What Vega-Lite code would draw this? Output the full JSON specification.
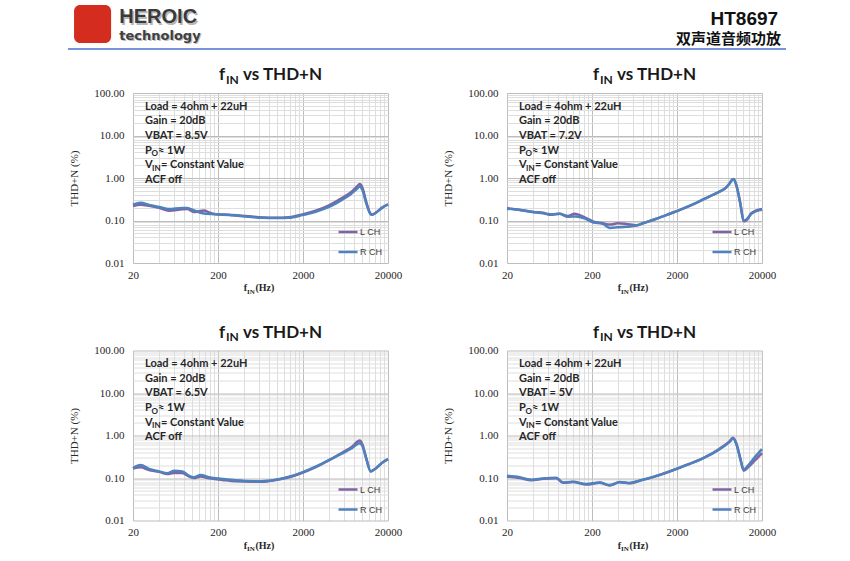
{
  "$schema": "https://vega.github.io/schema/vega-lite/v6.json",
  "background": "white",
  "autosize": {"type": "pad"},
  "padding": {"left": 67, "top": 5, "right": 0, "bottom": 0},
  "config": {
    "font": "Liberation Serif",
    "view": {"stroke": null},
    "axis": {"grid": true, "ticks": false, "domain": false, "labelFont": "Liberation Serif", "labelFontSize": 11, "labelColor": "#262626", "labelOverlap": false, "labelFlush": false, "labelBound": false, "titleFont": "Liberation Serif", "titleFontSize": 11, "titleFontWeight": "normal", "titleColor": "#262626"},
    "legend": {"orient": "bottom-right", "offset": 6, "padding": 0, "symbolType": "stroke", "symbolSize": 361, "symbolStrokeWidth": 2.5, "labelFont": "Liberation Sans", "labelFontSize": 9, "labelColor": "#404040", "labelOffset": 1, "rowPadding": 4, "labelLimit": 0}
  },
  "datasets": {
    "notes": [
      {"p": 1, "t": "Load = 4ohm + 22uH|Gain = 20dB|VBAT = 8.5V|P|V|ACF off", "o": "O", "q": "≈ 1W", "i": "IN", "r": "= Constant Value"},
      {"p": 2, "t": "Load = 4ohm + 22uH|Gain = 20dB|VBAT = 7.2V|P|V|ACF off", "o": "O", "q": "≈ 1W", "i": "IN", "r": "= Constant Value"},
      {"p": 3, "t": "Load = 4ohm + 22uH|Gain = 20dB|VBAT = 6.5V|P|V|ACF off", "o": "O", "q": "≈ 1W", "i": "IN", "r": "= Constant Value"},
      {"p": 4, "t": "Load = 4ohm + 22uH|Gain = 20dB|VBAT = 5V|P|V|ACF off", "o": "O", "q": "≈ 1W", "i": "IN", "r": "= Constant Value"}
    ],
    "curves": [
      {"p":1,"c":"L CH","f":20,"v":0.22},{"p":1,"c":"L CH","f":24.6,"v":0.236},{"p":1,"c":"L CH","f":30.8,"v":0.223},{"p":1,"c":"L CH","f":40.4,"v":0.2},{"p":1,"c":"L CH","f":53,"v":0.17},{"p":1,"c":"L CH","f":76,"v":0.183},{"p":1,"c":"L CH","f":87,"v":0.186},{"p":1,"c":"L CH","f":104,"v":0.158},{"p":1,"c":"L CH","f":137,"v":0.173},{"p":1,"c":"L CH","f":157,"v":0.155},{"p":1,"c":"L CH","f":188,"v":0.141},{"p":1,"c":"L CH","f":269,"v":0.136},{"p":1,"c":"L CH","f":423,"v":0.127},{"p":1,"c":"L CH","f":665,"v":0.118},{"p":1,"c":"L CH","f":953,"v":0.116},{"p":1,"c":"L CH","f":1368,"v":0.12},{"p":1,"c":"L CH","f":1964,"v":0.139},{"p":1,"c":"L CH","f":2818,"v":0.17},{"p":1,"c":"L CH","f":4045,"v":0.228},{"p":1,"c":"L CH","f":5806,"v":0.34},{"p":1,"c":"L CH","f":7279,"v":0.455},{"p":1,"c":"L CH","f":8711,"v":0.645},{"p":1,"c":"L CH","f":9290,"v":0.72},{"p":1,"c":"L CH","f":9980,"v":0.6},{"p":1,"c":"L CH","f":11120,"v":0.27},{"p":1,"c":"L CH","f":12510,"v":0.144},{"p":1,"c":"L CH","f":13090,"v":0.139},{"p":1,"c":"L CH","f":14330,"v":0.152},{"p":1,"c":"L CH","f":17150,"v":0.204},{"p":1,"c":"L CH","f":20000,"v":0.24},
      {"p":1,"c":"R CH","f":20,"v":0.236},{"p":1,"c":"R CH","f":24.6,"v":0.263},{"p":1,"c":"R CH","f":30.8,"v":0.232},{"p":1,"c":"R CH","f":40.4,"v":0.208},{"p":1,"c":"R CH","f":53,"v":0.186},{"p":1,"c":"R CH","f":76,"v":0.197},{"p":1,"c":"R CH","f":87,"v":0.197},{"p":1,"c":"R CH","f":104,"v":0.173},{"p":1,"c":"R CH","f":131,"v":0.149},{"p":1,"c":"R CH","f":188,"v":0.141},{"p":1,"c":"R CH","f":269,"v":0.134},{"p":1,"c":"R CH","f":423,"v":0.125},{"p":1,"c":"R CH","f":665,"v":0.116},{"p":1,"c":"R CH","f":953,"v":0.114},{"p":1,"c":"R CH","f":1368,"v":0.116},{"p":1,"c":"R CH","f":1964,"v":0.134},{"p":1,"c":"R CH","f":2818,"v":0.161},{"p":1,"c":"R CH","f":4045,"v":0.208},{"p":1,"c":"R CH","f":5806,"v":0.31},{"p":1,"c":"R CH","f":7279,"v":0.416},{"p":1,"c":"R CH","f":8711,"v":0.567},{"p":1,"c":"R CH","f":9290,"v":0.63},{"p":1,"c":"R CH","f":9980,"v":0.52},{"p":1,"c":"R CH","f":11120,"v":0.25},{"p":1,"c":"R CH","f":12510,"v":0.14},{"p":1,"c":"R CH","f":13090,"v":0.137},{"p":1,"c":"R CH","f":14330,"v":0.15},{"p":1,"c":"R CH","f":17150,"v":0.2},{"p":1,"c":"R CH","f":20000,"v":0.24},
      {"p":2,"c":"L CH","f":20,"v":0.193},{"p":2,"c":"L CH","f":28.2,"v":0.18},{"p":2,"c":"L CH","f":40.4,"v":0.158},{"p":2,"c":"L CH","f":53,"v":0.152},{"p":2,"c":"L CH","f":63.5,"v":0.136},{"p":2,"c":"L CH","f":83,"v":0.144},{"p":2,"c":"L CH","f":104,"v":0.127},{"p":2,"c":"L CH","f":125,"v":0.144},{"p":2,"c":"L CH","f":164,"v":0.118},{"p":2,"c":"L CH","f":205,"v":0.095},{"p":2,"c":"L CH","f":269,"v":0.086},{"p":2,"c":"L CH","f":323,"v":0.08},{"p":2,"c":"L CH","f":405,"v":0.086},{"p":2,"c":"L CH","f":507,"v":0.083},{"p":2,"c":"L CH","f":665,"v":0.077},{"p":2,"c":"L CH","f":796,"v":0.086},{"p":2,"c":"L CH","f":1143,"v":0.11},{"p":2,"c":"L CH","f":1639,"v":0.144},{"p":2,"c":"L CH","f":2354,"v":0.19},{"p":2,"c":"L CH","f":3375,"v":0.259},{"p":2,"c":"L CH","f":4845,"v":0.372},{"p":2,"c":"L CH","f":6353,"v":0.48},{"p":2,"c":"L CH","f":7605,"v":0.6},{"p":2,"c":"L CH","f":8333,"v":0.75},{"p":2,"c":"L CH","f":8900,"v":0.91},{"p":2,"c":"L CH","f":9290,"v":0.95},{"p":2,"c":"L CH","f":9980,"v":0.68},{"p":2,"c":"L CH","f":11120,"v":0.25},{"p":2,"c":"L CH","f":12170,"v":0.096},{"p":2,"c":"L CH","f":13090,"v":0.1},{"p":2,"c":"L CH","f":14990,"v":0.149},{"p":2,"c":"L CH","f":17150,"v":0.172},{"p":2,"c":"L CH","f":20000,"v":0.186},
      {"p":2,"c":"R CH","f":20,"v":0.19},{"p":2,"c":"R CH","f":28.2,"v":0.176},{"p":2,"c":"R CH","f":40.4,"v":0.158},{"p":2,"c":"R CH","f":53,"v":0.149},{"p":2,"c":"R CH","f":69.5,"v":0.139},{"p":2,"c":"R CH","f":83,"v":0.144},{"p":2,"c":"R CH","f":104,"v":0.122},{"p":2,"c":"R CH","f":131,"v":0.125},{"p":2,"c":"R CH","f":164,"v":0.112},{"p":2,"c":"R CH","f":205,"v":0.091},{"p":2,"c":"R CH","f":269,"v":0.083},{"p":2,"c":"R CH","f":323,"v":0.067},{"p":2,"c":"R CH","f":405,"v":0.069},{"p":2,"c":"R CH","f":507,"v":0.071},{"p":2,"c":"R CH","f":665,"v":0.076},{"p":2,"c":"R CH","f":796,"v":0.086},{"p":2,"c":"R CH","f":1143,"v":0.11},{"p":2,"c":"R CH","f":1639,"v":0.144},{"p":2,"c":"R CH","f":2354,"v":0.19},{"p":2,"c":"R CH","f":3375,"v":0.259},{"p":2,"c":"R CH","f":4845,"v":0.372},{"p":2,"c":"R CH","f":6353,"v":0.48},{"p":2,"c":"R CH","f":7605,"v":0.6},{"p":2,"c":"R CH","f":8333,"v":0.75},{"p":2,"c":"R CH","f":8900,"v":0.9},{"p":2,"c":"R CH","f":9290,"v":0.93},{"p":2,"c":"R CH","f":9980,"v":0.68},{"p":2,"c":"R CH","f":11120,"v":0.25},{"p":2,"c":"R CH","f":12170,"v":0.1},{"p":2,"c":"R CH","f":13090,"v":0.106},{"p":2,"c":"R CH","f":14990,"v":0.144},{"p":2,"c":"R CH","f":17150,"v":0.167},{"p":2,"c":"R CH","f":20000,"v":0.18},
      {"p":3,"c":"L CH","f":20,"v":0.168},{"p":3,"c":"L CH","f":24.6,"v":0.178},{"p":3,"c":"L CH","f":30.8,"v":0.154},{"p":3,"c":"L CH","f":40.4,"v":0.141},{"p":3,"c":"L CH","f":50.7,"v":0.124},{"p":3,"c":"L CH","f":60.7,"v":0.131},{"p":3,"c":"L CH","f":76,"v":0.131},{"p":3,"c":"L CH","f":91,"v":0.109},{"p":3,"c":"L CH","f":104,"v":0.1},{"p":3,"c":"L CH","f":125,"v":0.109},{"p":3,"c":"L CH","f":157,"v":0.098},{"p":3,"c":"L CH","f":225,"v":0.09},{"p":3,"c":"L CH","f":323,"v":0.084},{"p":3,"c":"L CH","f":507,"v":0.082},{"p":3,"c":"L CH","f":665,"v":0.082},{"p":3,"c":"L CH","f":953,"v":0.09},{"p":3,"c":"L CH","f":1368,"v":0.104},{"p":3,"c":"L CH","f":1964,"v":0.133},{"p":3,"c":"L CH","f":2818,"v":0.181},{"p":3,"c":"L CH","f":4045,"v":0.264},{"p":3,"c":"L CH","f":5806,"v":0.399},{"p":3,"c":"L CH","f":7605,"v":0.553},{"p":3,"c":"L CH","f":9290,"v":0.764},{"p":3,"c":"L CH","f":9980,"v":0.625},{"p":3,"c":"L CH","f":11120,"v":0.289},{"p":3,"c":"L CH","f":12510,"v":0.143},{"p":3,"c":"L CH","f":14330,"v":0.168},{"p":3,"c":"L CH","f":17150,"v":0.229},{"p":3,"c":"L CH","f":20000,"v":0.279},
      {"p":3,"c":"R CH","f":20,"v":0.171},{"p":3,"c":"R CH","f":24.6,"v":0.202},{"p":3,"c":"R CH","f":30.8,"v":0.163},{"p":3,"c":"R CH","f":40.4,"v":0.143},{"p":3,"c":"R CH","f":50.7,"v":0.129},{"p":3,"c":"R CH","f":60.7,"v":0.149},{"p":3,"c":"R CH","f":76,"v":0.143},{"p":3,"c":"R CH","f":91,"v":0.113},{"p":3,"c":"R CH","f":104,"v":0.104},{"p":3,"c":"R CH","f":125,"v":0.118},{"p":3,"c":"R CH","f":157,"v":0.104},{"p":3,"c":"R CH","f":225,"v":0.095},{"p":3,"c":"R CH","f":323,"v":0.088},{"p":3,"c":"R CH","f":507,"v":0.084},{"p":3,"c":"R CH","f":665,"v":0.084},{"p":3,"c":"R CH","f":953,"v":0.091},{"p":3,"c":"R CH","f":1368,"v":0.107},{"p":3,"c":"R CH","f":1964,"v":0.136},{"p":3,"c":"R CH","f":2818,"v":0.184},{"p":3,"c":"R CH","f":4045,"v":0.264},{"p":3,"c":"R CH","f":5806,"v":0.378},{"p":3,"c":"R CH","f":7605,"v":0.51},{"p":3,"c":"R CH","f":9290,"v":0.66},{"p":3,"c":"R CH","f":9980,"v":0.572},{"p":3,"c":"R CH","f":11120,"v":0.279},{"p":3,"c":"R CH","f":12510,"v":0.143},{"p":3,"c":"R CH","f":14330,"v":0.168},{"p":3,"c":"R CH","f":17150,"v":0.233},{"p":3,"c":"R CH","f":20000,"v":0.279},
      {"p":4,"c":"L CH","f":20,"v":0.109},{"p":4,"c":"L CH","f":28.2,"v":0.1},{"p":4,"c":"L CH","f":38.7,"v":0.089},{"p":4,"c":"L CH","f":53,"v":0.096},{"p":4,"c":"L CH","f":76,"v":0.099},{"p":4,"c":"L CH","f":91,"v":0.077},{"p":4,"c":"L CH","f":119.5,"v":0.08},{"p":4,"c":"L CH","f":171.5,"v":0.07},{"p":4,"c":"L CH","f":246,"v":0.077},{"p":4,"c":"L CH","f":323,"v":0.067},{"p":4,"c":"L CH","f":423,"v":0.079},{"p":4,"c":"L CH","f":555,"v":0.075},{"p":4,"c":"L CH","f":728,"v":0.086},{"p":4,"c":"L CH","f":1044,"v":0.105},{"p":4,"c":"L CH","f":1639,"v":0.142},{"p":4,"c":"L CH","f":2576,"v":0.2},{"p":4,"c":"L CH","f":4045,"v":0.292},{"p":4,"c":"L CH","f":6353,"v":0.49},{"p":4,"c":"L CH","f":8333,"v":0.74},{"p":4,"c":"L CH","f":9120,"v":0.88},{"p":4,"c":"L CH","f":9980,"v":0.65},{"p":4,"c":"L CH","f":11120,"v":0.29},{"p":4,"c":"L CH","f":12170,"v":0.149},{"p":4,"c":"L CH","f":13690,"v":0.178},{"p":4,"c":"L CH","f":16400,"v":0.255},{"p":4,"c":"L CH","f":20000,"v":0.385},
      {"p":4,"c":"R CH","f":20,"v":0.113},{"p":4,"c":"R CH","f":28.2,"v":0.104},{"p":4,"c":"R CH","f":38.7,"v":0.091},{"p":4,"c":"R CH","f":53,"v":0.098},{"p":4,"c":"R CH","f":76,"v":0.102},{"p":4,"c":"R CH","f":91,"v":0.078},{"p":4,"c":"R CH","f":119.5,"v":0.082},{"p":4,"c":"R CH","f":171.5,"v":0.072},{"p":4,"c":"R CH","f":246,"v":0.078},{"p":4,"c":"R CH","f":323,"v":0.068},{"p":4,"c":"R CH","f":423,"v":0.081},{"p":4,"c":"R CH","f":555,"v":0.076},{"p":4,"c":"R CH","f":728,"v":0.087},{"p":4,"c":"R CH","f":1044,"v":0.106},{"p":4,"c":"R CH","f":1639,"v":0.143},{"p":4,"c":"R CH","f":2576,"v":0.202},{"p":4,"c":"R CH","f":4045,"v":0.289},{"p":4,"c":"R CH","f":6353,"v":0.478},{"p":4,"c":"R CH","f":8333,"v":0.71},{"p":4,"c":"R CH","f":9120,"v":0.85},{"p":4,"c":"R CH","f":9980,"v":0.625},{"p":4,"c":"R CH","f":11120,"v":0.279},{"p":4,"c":"R CH","f":12170,"v":0.157},{"p":4,"c":"R CH","f":13690,"v":0.195},{"p":4,"c":"R CH","f":16400,"v":0.305},{"p":4,"c":"R CH","f":20000,"v":0.478}
    ]
  },
  "spacing": 16,
  "vconcat": [
    {
      "width": 653, "height": 44,
      "layer": [
        {"data": {"values": [{"k": "logo"}]}, "mark": {"type": "rect", "fill": "#d42c1f", "cornerRadius": 6},
         "encoding": {"x": {"datum": 0.84, "type": "quantitative", "scale": {"domain": [9.05, 100]}, "axis": null}, "x2": {"datum": 6.0}, "y": {"datum": 1, "type": "quantitative", "scale": {"domain": [0, 1]}, "axis": null}, "y2": {"datum": 0.136}}},
        {"data": {"values": [{"t": "HEROIC"}]}, "mark": {"type": "text", "align": "left", "baseline": "alphabetic", "font": "Liberation Sans", "fontWeight": "bold", "fontSize": 20, "fill": "#b8b8b8", "dx": 1.5, "dy": 1.5},
         "encoding": {"x": {"datum": 7.14, "type": "quantitative", "scale": {"domain": [9.05, 100]}, "axis": null}, "y": {"datum": 0.584, "type": "quantitative", "scale": {"domain": [0, 1]}, "axis": null}, "text": {"field": "t"}}},
        {"data": {"values": [{"t": "HEROIC"}]}, "mark": {"type": "text", "align": "left", "baseline": "alphabetic", "font": "Liberation Sans", "fontWeight": "bold", "fontSize": 20, "fill": "#3a3a3a"},
         "encoding": {"x": {"datum": 7.14, "type": "quantitative", "scale": {"domain": [9.05, 100]}, "axis": null}, "y": {"datum": 0.584, "type": "quantitative", "scale": {"domain": [0, 1]}, "axis": null}, "text": {"field": "t"}}},
        {"data": {"values": [{"t": "technology"}]}, "mark": {"type": "text", "align": "left", "baseline": "alphabetic", "font": "DejaVu Sans", "fontWeight": "bold", "fontSize": 13, "fill": "#c0c0c0", "dx": 1.2, "dy": 1.2},
         "encoding": {"x": {"datum": 7.14, "type": "quantitative", "scale": {"domain": [9.05, 100]}, "axis": null}, "y": {"datum": 0.205, "type": "quantitative", "scale": {"domain": [0, 1]}, "axis": null}, "text": {"field": "t"}}},
        {"data": {"values": [{"t": "technology"}]}, "mark": {"type": "text", "align": "left", "baseline": "alphabetic", "font": "DejaVu Sans", "fontWeight": "bold", "fontSize": 13, "fill": "#404040"},
         "encoding": {"x": {"datum": 7.14, "type": "quantitative", "scale": {"domain": [9.05, 100]}, "axis": null}, "y": {"datum": 0.205, "type": "quantitative", "scale": {"domain": [0, 1]}, "axis": null}, "text": {"field": "t"}}},
        {"data": {"values": [{"t": "HT8697"}]}, "mark": {"type": "text", "align": "right", "baseline": "alphabetic", "font": "Liberation Sans", "fontWeight": "bold", "fontSize": 19, "fill": "#111111"},
         "encoding": {"x": {"datum": 98.9, "type": "quantitative", "scale": {"domain": [9.05, 100]}, "axis": null}, "y": {"datum": 0.545, "type": "quantitative", "scale": {"domain": [0, 1]}, "axis": null}, "text": {"field": "t"}}},
        {"data": {"values": [{"t": "双声道音频功放"}]}, "mark": {"type": "text", "align": "right", "baseline": "alphabetic", "font": "Noto Sans CJK SC", "fontWeight": "bold", "fontSize": 15, "fill": "#111111"},
         "encoding": {"x": {"datum": 99.3, "type": "quantitative", "scale": {"domain": [9.05, 100]}, "axis": null}, "y": {"datum": 0.114, "type": "quantitative", "scale": {"domain": [0, 1]}, "axis": null}, "text": {"field": "t"}}},
        {"data": {"values": [{"k": "line"}]}, "mark": {"type": "rule", "color": "#4a6fd0", "strokeWidth": 1.5},
         "encoding": {"x": {"datum": 0, "type": "quantitative", "scale": {"domain": [9.05, 100]}, "axis": null}, "x2": {"datum": 100}, "y": {"datum": 0, "type": "quantitative", "scale": {"domain": [0, 1]}, "axis": null}}}
      ]
    },
    {
      "columns": 2,
      "bounds": "flush",
      "spacing": {"row": 87.5, "column": 119},
      "resolve": {"scale": {"color": "shared"}, "legend": {"color": "independent"}},
      "concat": [
        {
          "width": 255, "height": 170,
          "layer": [
            {"data": {"name": "curves"}, "transform": [{"filter": "datum.p == 1"}],
             "mark": {"type": "line", "interpolate": "monotone", "strokeWidth": 2.5},
             "encoding": {
               "x": {"field": "f", "type": "quantitative", "scale": {"type": "log", "domain": [20, 20000], "nice": false},
                     "axis": {"title": null, "values": [20,40,60,80,100,120,140,160,180,200,400,600,800,1000,1200,1400,1600,1800,2000,4000,6000,8000,10000,12000,14000,16000,18000,20000], "format": "d", "labelExpr": "indexof([20,200,2000,20000], datum.value) >= 0 ? datum.label : ''", "labelPadding": 6, "gridColor": {"condition": {"test": "indexof([20,200,2000,20000], datum.value) >= 0", "value": "#bdbdbd"}, "value": "#dedede"}}},
               "y": {"field": "v", "type": "quantitative", "scale": {"type": "log", "domain": [0.01, 100], "nice": false},
                     "axis": {"title": "THD+N (%)", "values": [0.01,0.02,0.03,0.04,0.05,0.06,0.07,0.08,0.09,0.1,0.2,0.3,0.4,0.5,0.6,0.7,0.8,0.9,1,2,3,4,5,6,7,8,9,10,20,30,40,50,60,70,80,90,100], "format": ".2f", "labelExpr": "indexof([0.01,0.1,1,10,100], datum.value) >= 0 ? datum.label : ''", "labelPadding": 9, "titlePadding": 14, "gridColor": {"condition": {"test": "indexof([0.01,0.1,1,10,100], datum.value) >= 0", "value": "#bdbdbd"}, "value": "#dedede"}}},
               "color": {"field": "c", "type": "nominal", "scale": {"domain": ["L CH", "R CH"], "range": ["#8064A2", "#4F81BD"]}, "legend": {"title": null}}
             }},
            {"data": {"values": [{"a": "vs THD+N", "b": "f", "s": "IN"}]},
             "encoding": {"x": {"datum": 394, "type": "quantitative", "scale": {"type": "log", "domain": [20, 20000], "nice": false}}, "y": {"datum": 200, "type": "quantitative", "scale": {"type": "log", "domain": [0.01, 100], "nice": false}}},
             "layer": [
               {"mark": {"type": "text", "align": "left", "baseline": "alphabetic", "font": "Lato", "fontWeight": "bold", "fontSize": 17, "fill": "#1a1a1a"}, "encoding": {"text": {"field": "a"}}},
               {"mark": {"type": "text", "align": "right", "baseline": "alphabetic", "font": "Lato", "fontWeight": "bold", "fontSize": 17, "fill": "#1a1a1a", "dx": -18}, "encoding": {"text": {"field": "b"}}},
               {"mark": {"type": "text", "align": "left", "baseline": "alphabetic", "font": "Lato", "fontWeight": "bold", "fontSize": 12, "fill": "#1a1a1a", "dx": -17, "dy": 3.5}, "encoding": {"text": {"field": "s"}}}
             ]},
            {"data": {"name": "notes"}, "transform": [{"filter": "datum.p == 1"}],
             "encoding": {"x": {"datum": 27.7, "type": "quantitative", "scale": {"type": "log", "domain": [20, 20000], "nice": false}}, "y": {"datum": 40.3, "type": "quantitative", "scale": {"type": "log", "domain": [0.01, 100], "nice": false}}},
             "layer": [
               {"mark": {"type": "text", "align": "left", "baseline": "alphabetic", "font": "Lato", "fontWeight": "bold", "fontSize": 11, "fill": "#262626", "lineBreak": "|", "lineHeight": 14.6}, "encoding": {"text": {"field": "t"}}},
               {"mark": {"type": "text", "align": "left", "baseline": "alphabetic", "font": "Lato", "fontWeight": "bold", "fontSize": 8, "fill": "#262626", "dx": 6.5, "dy": 46.3}, "encoding": {"text": {"field": "o"}}},
               {"mark": {"type": "text", "align": "left", "baseline": "alphabetic", "font": "Lato", "fontWeight": "bold", "fontSize": 11, "fill": "#262626", "dx": 13, "dy": 43.8}, "encoding": {"text": {"field": "q"}}},
               {"mark": {"type": "text", "align": "left", "baseline": "alphabetic", "font": "Lato", "fontWeight": "bold", "fontSize": 8, "fill": "#262626", "dx": 7, "dy": 60.9}, "encoding": {"text": {"field": "i"}}},
               {"mark": {"type": "text", "align": "left", "baseline": "alphabetic", "font": "Lato", "fontWeight": "bold", "fontSize": 11, "fill": "#262626", "dx": 16, "dy": 58.4}, "encoding": {"text": {"field": "r"}}}
             ]},
            {"data": {"values": [{"a": "(Hz)", "b": "f", "s": "IN"}]},
             "encoding": {"x": {"datum": 575, "type": "quantitative", "scale": {"type": "log", "domain": [20, 20000], "nice": false}}, "y": {"datum": 0.00216, "type": "quantitative", "scale": {"type": "log", "domain": [0.01, 100], "nice": false}}},
             "layer": [
               {"mark": {"type": "text", "align": "left", "baseline": "alphabetic", "font": "Liberation Serif", "fontWeight": "bold", "fontSize": 10, "fill": "#262626", "dx": -1.5}, "encoding": {"text": {"field": "a"}}},
               {"mark": {"type": "text", "align": "right", "baseline": "alphabetic", "font": "Liberation Serif", "fontWeight": "bold", "fontSize": 10, "fill": "#262626", "dx": -10}, "encoding": {"text": {"field": "b"}}},
               {"mark": {"type": "text", "align": "left", "baseline": "alphabetic", "font": "Liberation Serif", "fontWeight": "bold", "fontSize": 7, "fill": "#262626", "dx": -10, "dy": 2.5}, "encoding": {"text": {"field": "s"}}}
             ]}
          ]
        },
        {
          "width": 255, "height": 170,
          "layer": [
            {"data": {"name": "curves"}, "transform": [{"filter": "datum.p == 2"}],
             "mark": {"type": "line", "interpolate": "monotone", "strokeWidth": 2.5},
             "encoding": {
               "x": {"field": "f", "type": "quantitative", "scale": {"type": "log", "domain": [20, 20000], "nice": false},
                     "axis": {"title": null, "values": [20,40,60,80,100,120,140,160,180,200,400,600,800,1000,1200,1400,1600,1800,2000,4000,6000,8000,10000,12000,14000,16000,18000,20000], "format": "d", "labelExpr": "indexof([20,200,2000,20000], datum.value) >= 0 ? datum.label : ''", "labelPadding": 6, "gridColor": {"condition": {"test": "indexof([20,200,2000,20000], datum.value) >= 0", "value": "#bdbdbd"}, "value": "#dedede"}}},
               "y": {"field": "v", "type": "quantitative", "scale": {"type": "log", "domain": [0.01, 100], "nice": false},
                     "axis": {"title": "THD+N (%)", "values": [0.01,0.02,0.03,0.04,0.05,0.06,0.07,0.08,0.09,0.1,0.2,0.3,0.4,0.5,0.6,0.7,0.8,0.9,1,2,3,4,5,6,7,8,9,10,20,30,40,50,60,70,80,90,100], "format": ".2f", "labelExpr": "indexof([0.01,0.1,1,10,100], datum.value) >= 0 ? datum.label : ''", "labelPadding": 9, "titlePadding": 14, "gridColor": {"condition": {"test": "indexof([0.01,0.1,1,10,100], datum.value) >= 0", "value": "#bdbdbd"}, "value": "#dedede"}}},
               "color": {"field": "c", "type": "nominal", "scale": {"domain": ["L CH", "R CH"], "range": ["#8064A2", "#4F81BD"]}, "legend": {"title": null}}
             }},
            {"data": {"values": [{"a": "vs THD+N", "b": "f", "s": "IN"}]},
             "encoding": {"x": {"datum": 394, "type": "quantitative", "scale": {"type": "log", "domain": [20, 20000], "nice": false}}, "y": {"datum": 200, "type": "quantitative", "scale": {"type": "log", "domain": [0.01, 100], "nice": false}}},
             "layer": [
               {"mark": {"type": "text", "align": "left", "baseline": "alphabetic", "font": "Lato", "fontWeight": "bold", "fontSize": 17, "fill": "#1a1a1a"}, "encoding": {"text": {"field": "a"}}},
               {"mark": {"type": "text", "align": "right", "baseline": "alphabetic", "font": "Lato", "fontWeight": "bold", "fontSize": 17, "fill": "#1a1a1a", "dx": -18}, "encoding": {"text": {"field": "b"}}},
               {"mark": {"type": "text", "align": "left", "baseline": "alphabetic", "font": "Lato", "fontWeight": "bold", "fontSize": 12, "fill": "#1a1a1a", "dx": -17, "dy": 3.5}, "encoding": {"text": {"field": "s"}}}
             ]},
            {"data": {"name": "notes"}, "transform": [{"filter": "datum.p == 2"}],
             "encoding": {"x": {"datum": 27.7, "type": "quantitative", "scale": {"type": "log", "domain": [20, 20000], "nice": false}}, "y": {"datum": 40.3, "type": "quantitative", "scale": {"type": "log", "domain": [0.01, 100], "nice": false}}},
             "layer": [
               {"mark": {"type": "text", "align": "left", "baseline": "alphabetic", "font": "Lato", "fontWeight": "bold", "fontSize": 11, "fill": "#262626", "lineBreak": "|", "lineHeight": 14.6}, "encoding": {"text": {"field": "t"}}},
               {"mark": {"type": "text", "align": "left", "baseline": "alphabetic", "font": "Lato", "fontWeight": "bold", "fontSize": 8, "fill": "#262626", "dx": 6.5, "dy": 46.3}, "encoding": {"text": {"field": "o"}}},
               {"mark": {"type": "text", "align": "left", "baseline": "alphabetic", "font": "Lato", "fontWeight": "bold", "fontSize": 11, "fill": "#262626", "dx": 13, "dy": 43.8}, "encoding": {"text": {"field": "q"}}},
               {"mark": {"type": "text", "align": "left", "baseline": "alphabetic", "font": "Lato", "fontWeight": "bold", "fontSize": 8, "fill": "#262626", "dx": 7, "dy": 60.9}, "encoding": {"text": {"field": "i"}}},
               {"mark": {"type": "text", "align": "left", "baseline": "alphabetic", "font": "Lato", "fontWeight": "bold", "fontSize": 11, "fill": "#262626", "dx": 16, "dy": 58.4}, "encoding": {"text": {"field": "r"}}}
             ]},
            {"data": {"values": [{"a": "(Hz)", "b": "f", "s": "IN"}]},
             "encoding": {"x": {"datum": 575, "type": "quantitative", "scale": {"type": "log", "domain": [20, 20000], "nice": false}}, "y": {"datum": 0.00216, "type": "quantitative", "scale": {"type": "log", "domain": [0.01, 100], "nice": false}}},
             "layer": [
               {"mark": {"type": "text", "align": "left", "baseline": "alphabetic", "font": "Liberation Serif", "fontWeight": "bold", "fontSize": 10, "fill": "#262626", "dx": -1.5}, "encoding": {"text": {"field": "a"}}},
               {"mark": {"type": "text", "align": "right", "baseline": "alphabetic", "font": "Liberation Serif", "fontWeight": "bold", "fontSize": 10, "fill": "#262626", "dx": -10}, "encoding": {"text": {"field": "b"}}},
               {"mark": {"type": "text", "align": "left", "baseline": "alphabetic", "font": "Liberation Serif", "fontWeight": "bold", "fontSize": 7, "fill": "#262626", "dx": -10, "dy": 2.5}, "encoding": {"text": {"field": "s"}}}
             ]}
          ]
        },
        {
          "width": 255, "height": 170,
          "layer": [
            {"data": {"name": "curves"}, "transform": [{"filter": "datum.p == 3"}],
             "mark": {"type": "line", "interpolate": "monotone", "strokeWidth": 2.5},
             "encoding": {
               "x": {"field": "f", "type": "quantitative", "scale": {"type": "log", "domain": [20, 20000], "nice": false},
                     "axis": {"title": null, "values": [20,40,60,80,100,120,140,160,180,200,400,600,800,1000,1200,1400,1600,1800,2000,4000,6000,8000,10000,12000,14000,16000,18000,20000], "format": "d", "labelExpr": "indexof([20,200,2000,20000], datum.value) >= 0 ? datum.label : ''", "labelPadding": 6, "gridColor": {"condition": {"test": "indexof([20,200,2000,20000], datum.value) >= 0", "value": "#bdbdbd"}, "value": "#dedede"}}},
               "y": {"field": "v", "type": "quantitative", "scale": {"type": "log", "domain": [0.01, 100], "nice": false},
                     "axis": {"title": "THD+N (%)", "values": [0.01,0.02,0.03,0.04,0.05,0.06,0.07,0.08,0.09,0.1,0.2,0.3,0.4,0.5,0.6,0.7,0.8,0.9,1,2,3,4,5,6,7,8,9,10,20,30,40,50,60,70,80,90,100], "format": ".2f", "labelExpr": "indexof([0.01,0.1,1,10,100], datum.value) >= 0 ? datum.label : ''", "labelPadding": 9, "titlePadding": 14, "gridColor": {"condition": {"test": "indexof([0.01,0.1,1,10,100], datum.value) >= 0", "value": "#bdbdbd"}, "value": "#dedede"}}},
               "color": {"field": "c", "type": "nominal", "scale": {"domain": ["L CH", "R CH"], "range": ["#8064A2", "#4F81BD"]}, "legend": {"title": null}}
             }},
            {"data": {"values": [{"a": "vs THD+N", "b": "f", "s": "IN"}]},
             "encoding": {"x": {"datum": 394, "type": "quantitative", "scale": {"type": "log", "domain": [20, 20000], "nice": false}}, "y": {"datum": 200, "type": "quantitative", "scale": {"type": "log", "domain": [0.01, 100], "nice": false}}},
             "layer": [
               {"mark": {"type": "text", "align": "left", "baseline": "alphabetic", "font": "Lato", "fontWeight": "bold", "fontSize": 17, "fill": "#1a1a1a"}, "encoding": {"text": {"field": "a"}}},
               {"mark": {"type": "text", "align": "right", "baseline": "alphabetic", "font": "Lato", "fontWeight": "bold", "fontSize": 17, "fill": "#1a1a1a", "dx": -18}, "encoding": {"text": {"field": "b"}}},
               {"mark": {"type": "text", "align": "left", "baseline": "alphabetic", "font": "Lato", "fontWeight": "bold", "fontSize": 12, "fill": "#1a1a1a", "dx": -17, "dy": 3.5}, "encoding": {"text": {"field": "s"}}}
             ]},
            {"data": {"name": "notes"}, "transform": [{"filter": "datum.p == 3"}],
             "encoding": {"x": {"datum": 27.7, "type": "quantitative", "scale": {"type": "log", "domain": [20, 20000], "nice": false}}, "y": {"datum": 40.3, "type": "quantitative", "scale": {"type": "log", "domain": [0.01, 100], "nice": false}}},
             "layer": [
               {"mark": {"type": "text", "align": "left", "baseline": "alphabetic", "font": "Lato", "fontWeight": "bold", "fontSize": 11, "fill": "#262626", "lineBreak": "|", "lineHeight": 14.6}, "encoding": {"text": {"field": "t"}}},
               {"mark": {"type": "text", "align": "left", "baseline": "alphabetic", "font": "Lato", "fontWeight": "bold", "fontSize": 8, "fill": "#262626", "dx": 6.5, "dy": 46.3}, "encoding": {"text": {"field": "o"}}},
               {"mark": {"type": "text", "align": "left", "baseline": "alphabetic", "font": "Lato", "fontWeight": "bold", "fontSize": 11, "fill": "#262626", "dx": 13, "dy": 43.8}, "encoding": {"text": {"field": "q"}}},
               {"mark": {"type": "text", "align": "left", "baseline": "alphabetic", "font": "Lato", "fontWeight": "bold", "fontSize": 8, "fill": "#262626", "dx": 7, "dy": 60.9}, "encoding": {"text": {"field": "i"}}},
               {"mark": {"type": "text", "align": "left", "baseline": "alphabetic", "font": "Lato", "fontWeight": "bold", "fontSize": 11, "fill": "#262626", "dx": 16, "dy": 58.4}, "encoding": {"text": {"field": "r"}}}
             ]},
            {"data": {"values": [{"a": "(Hz)", "b": "f", "s": "IN"}]},
             "encoding": {"x": {"datum": 575, "type": "quantitative", "scale": {"type": "log", "domain": [20, 20000], "nice": false}}, "y": {"datum": 0.00216, "type": "quantitative", "scale": {"type": "log", "domain": [0.01, 100], "nice": false}}},
             "layer": [
               {"mark": {"type": "text", "align": "left", "baseline": "alphabetic", "font": "Liberation Serif", "fontWeight": "bold", "fontSize": 10, "fill": "#262626", "dx": -1.5}, "encoding": {"text": {"field": "a"}}},
               {"mark": {"type": "text", "align": "right", "baseline": "alphabetic", "font": "Liberation Serif", "fontWeight": "bold", "fontSize": 10, "fill": "#262626", "dx": -10}, "encoding": {"text": {"field": "b"}}},
               {"mark": {"type": "text", "align": "left", "baseline": "alphabetic", "font": "Liberation Serif", "fontWeight": "bold", "fontSize": 7, "fill": "#262626", "dx": -10, "dy": 2.5}, "encoding": {"text": {"field": "s"}}}
             ]}
          ]
        },
        {
          "width": 255, "height": 170,
          "layer": [
            {"data": {"name": "curves"}, "transform": [{"filter": "datum.p == 4"}],
             "mark": {"type": "line", "interpolate": "monotone", "strokeWidth": 2.5},
             "encoding": {
               "x": {"field": "f", "type": "quantitative", "scale": {"type": "log", "domain": [20, 20000], "nice": false},
                     "axis": {"title": null, "values": [20,40,60,80,100,120,140,160,180,200,400,600,800,1000,1200,1400,1600,1800,2000,4000,6000,8000,10000,12000,14000,16000,18000,20000], "format": "d", "labelExpr": "indexof([20,200,2000,20000], datum.value) >= 0 ? datum.label : ''", "labelPadding": 6, "gridColor": {"condition": {"test": "indexof([20,200,2000,20000], datum.value) >= 0", "value": "#bdbdbd"}, "value": "#dedede"}}},
               "y": {"field": "v", "type": "quantitative", "scale": {"type": "log", "domain": [0.01, 100], "nice": false},
                     "axis": {"title": "THD+N (%)", "values": [0.01,0.02,0.03,0.04,0.05,0.06,0.07,0.08,0.09,0.1,0.2,0.3,0.4,0.5,0.6,0.7,0.8,0.9,1,2,3,4,5,6,7,8,9,10,20,30,40,50,60,70,80,90,100], "format": ".2f", "labelExpr": "indexof([0.01,0.1,1,10,100], datum.value) >= 0 ? datum.label : ''", "labelPadding": 9, "titlePadding": 14, "gridColor": {"condition": {"test": "indexof([0.01,0.1,1,10,100], datum.value) >= 0", "value": "#bdbdbd"}, "value": "#dedede"}}},
               "color": {"field": "c", "type": "nominal", "scale": {"domain": ["L CH", "R CH"], "range": ["#8064A2", "#4F81BD"]}, "legend": {"title": null}}
             }},
            {"data": {"values": [{"a": "vs THD+N", "b": "f", "s": "IN"}]},
             "encoding": {"x": {"datum": 394, "type": "quantitative", "scale": {"type": "log", "domain": [20, 20000], "nice": false}}, "y": {"datum": 200, "type": "quantitative", "scale": {"type": "log", "domain": [0.01, 100], "nice": false}}},
             "layer": [
               {"mark": {"type": "text", "align": "left", "baseline": "alphabetic", "font": "Lato", "fontWeight": "bold", "fontSize": 17, "fill": "#1a1a1a"}, "encoding": {"text": {"field": "a"}}},
               {"mark": {"type": "text", "align": "right", "baseline": "alphabetic", "font": "Lato", "fontWeight": "bold", "fontSize": 17, "fill": "#1a1a1a", "dx": -18}, "encoding": {"text": {"field": "b"}}},
               {"mark": {"type": "text", "align": "left", "baseline": "alphabetic", "font": "Lato", "fontWeight": "bold", "fontSize": 12, "fill": "#1a1a1a", "dx": -17, "dy": 3.5}, "encoding": {"text": {"field": "s"}}}
             ]},
            {"data": {"name": "notes"}, "transform": [{"filter": "datum.p == 4"}],
             "encoding": {"x": {"datum": 27.7, "type": "quantitative", "scale": {"type": "log", "domain": [20, 20000], "nice": false}}, "y": {"datum": 40.3, "type": "quantitative", "scale": {"type": "log", "domain": [0.01, 100], "nice": false}}},
             "layer": [
               {"mark": {"type": "text", "align": "left", "baseline": "alphabetic", "font": "Lato", "fontWeight": "bold", "fontSize": 11, "fill": "#262626", "lineBreak": "|", "lineHeight": 14.6}, "encoding": {"text": {"field": "t"}}},
               {"mark": {"type": "text", "align": "left", "baseline": "alphabetic", "font": "Lato", "fontWeight": "bold", "fontSize": 8, "fill": "#262626", "dx": 6.5, "dy": 46.3}, "encoding": {"text": {"field": "o"}}},
               {"mark": {"type": "text", "align": "left", "baseline": "alphabetic", "font": "Lato", "fontWeight": "bold", "fontSize": 11, "fill": "#262626", "dx": 13, "dy": 43.8}, "encoding": {"text": {"field": "q"}}},
               {"mark": {"type": "text", "align": "left", "baseline": "alphabetic", "font": "Lato", "fontWeight": "bold", "fontSize": 8, "fill": "#262626", "dx": 7, "dy": 60.9}, "encoding": {"text": {"field": "i"}}},
               {"mark": {"type": "text", "align": "left", "baseline": "alphabetic", "font": "Lato", "fontWeight": "bold", "fontSize": 11, "fill": "#262626", "dx": 16, "dy": 58.4}, "encoding": {"text": {"field": "r"}}}
             ]},
            {"data": {"values": [{"a": "(Hz)", "b": "f", "s": "IN"}]},
             "encoding": {"x": {"datum": 575, "type": "quantitative", "scale": {"type": "log", "domain": [20, 20000], "nice": false}}, "y": {"datum": 0.00216, "type": "quantitative", "scale": {"type": "log", "domain": [0.01, 100], "nice": false}}},
             "layer": [
               {"mark": {"type": "text", "align": "left", "baseline": "alphabetic", "font": "Liberation Serif", "fontWeight": "bold", "fontSize": 10, "fill": "#262626", "dx": -1.5}, "encoding": {"text": {"field": "a"}}},
               {"mark": {"type": "text", "align": "right", "baseline": "alphabetic", "font": "Liberation Serif", "fontWeight": "bold", "fontSize": 10, "fill": "#262626", "dx": -10}, "encoding": {"text": {"field": "b"}}},
               {"mark": {"type": "text", "align": "left", "baseline": "alphabetic", "font": "Liberation Serif", "fontWeight": "bold", "fontSize": 7, "fill": "#262626", "dx": -10, "dy": 2.5}, "encoding": {"text": {"field": "s"}}}
             ]}
          ]
        }
      ]
    }
  ]
}
